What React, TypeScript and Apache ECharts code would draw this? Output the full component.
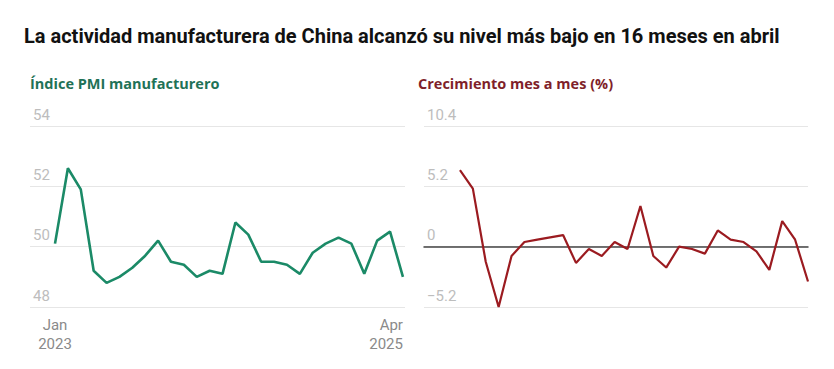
import React, { useEffect, useRef } from "react";
import * as echarts from "echarts";

const months = [
  "Jan 2023", "Feb 2023", "Mar 2023", "Apr 2023", "May 2023", "Jun 2023", "Jul 2023", "Aug 2023", "Sep 2023", "Oct 2023", "Nov 2023", "Dec 2023",
  "Jan 2024", "Feb 2024", "Mar 2024", "Apr 2024", "May 2024", "Jun 2024", "Jul 2024", "Aug 2024", "Sep 2024", "Oct 2024", "Nov 2024", "Dec 2024",
  "Jan 2025", "Feb 2025", "Mar 2025", "Apr 2025",
];

const pmi = [
  50.1, 52.6, 51.9, 49.2, 48.8, 49.0, 49.3, 49.7, 50.2, 49.5, 49.4, 49.0,
  49.2, 49.1, 50.8, 50.4, 49.5, 49.5, 49.4, 49.1, 49.8, 50.1, 50.3, 50.1,
  49.1, 50.2, 50.5, 49.0,
];

const momGrowth = [
  6.6, 5.0, -1.3, -5.2, -0.8, 0.4, 0.6, 0.8, 1.0, -1.4, -0.2, -0.8,
  0.4, -0.2, 3.5, -0.8, -1.8, 0.0, -0.2, -0.6, 1.4, 0.6, 0.4, -0.4,
  -2.0, 2.2, 0.6, -3.0,
];

const xTickLabels = ["Jan\n2023", "Apr\n2025"];
const leftTicks = [48, 50, 52, 54];
const rightTicks = [-5.2, 0, 5.2, 10.4];

const GREEN = "#1b8a67";
const RED = "#9b1b20";

export default function App() {
  const ref = useRef<HTMLDivElement>(null);
  useEffect(() => {
    if (!ref.current) return;
    const chart = echarts.init(ref.current, undefined, { renderer: "svg" });
    const last = months.length - 1;
    const yLabel = {
      inside: true,
      margin: 3,
      verticalAlign: "bottom" as const,
      padding: [0, 0, 4, 0],
      color: "#bdbdbd",
      fontSize: 15,
      fontFamily: "Roboto",
    };
    chart.setOption({
      animation: false,
      backgroundColor: "#ffffff",
      title: [
        {
          text: "La actividad manufacturera de China alcanzó su nivel más bajo en 16 meses en abril",
          left: 19,
          top: 21,
          textStyle: { fontFamily: "Roboto", fontWeight: "bold", fontSize: 20, color: "#111" },
        },
        {
          text: "Índice PMI manufacturero",
          left: 25,
          top: 71,
          textStyle: { fontFamily: "Open Sans", fontWeight: 700, fontSize: 14.5, color: "#1f7257" },
        },
        {
          text: "Crecimiento mes a mes (%)",
          left: 413,
          top: 71,
          textStyle: { fontFamily: "Open Sans", fontWeight: 700, fontSize: 14.5, color: "#7f1f2a" },
        },
      ],
      grid: [
        { left: 30, right: 429, top: 126, bottom: 62 },
        { left: 424, right: 26, top: 126, bottom: 62 },
      ],
      xAxis: [
        {
          type: "value",
          gridIndex: 0,
          min: -1.94,
          max: 27.16,
          splitLine: { show: false },
          axisLine: { show: false },
          axisTick: { show: false },
          axisLabel: {
            customValues: [0, last],
            formatter: (v: number) => (v === 0 ? xTickLabels[0] : v === last ? xTickLabels[1] : ""),
            alignMinLabel: "center",
            alignMaxLabel: "right",
            color: "#8a8a8a",
            fontSize: 15,
            lineHeight: 19,
            margin: 8,
            fontFamily: "Roboto",
          },
        },
        {
          type: "value",
          gridIndex: 1,
          min: -2.79,
          max: 27,
          splitLine: { show: false },
          axisLine: { show: true, onZero: true, lineStyle: { color: "#444", width: 1.5 } },
          axisTick: { show: false },
          axisLabel: { show: false },
        },
      ],
      yAxis: [
        {
          type: "value",
          gridIndex: 0,
          min: 48,
          max: 54,
          interval: 2,
          axisLine: { show: false },
          axisTick: { show: false },
          splitLine: { lineStyle: { color: "#e6e6e6", width: 1 } },
          axisLabel: { ...yLabel, formatter: (v: number) => (leftTicks.includes(v) ? String(v) : "") },
        },
        {
          type: "value",
          gridIndex: 1,
          min: -5.2,
          max: 10.4,
          interval: 5.2,
          axisLine: { show: false },
          axisTick: { show: false },
          splitLine: { lineStyle: { color: "#e6e6e6", width: 1 } },
          axisLabel: {
            ...yLabel,
            formatter: (v: number) => {
              const t = rightTicks.find((r) => Math.abs(r - v) < 1e-6);
              if (t === undefined) return "";
              return t < 0 ? "\u2212" + Math.abs(t).toFixed(1) : t === 0 ? "0" : t.toFixed(1);
            },
          },
        },
      ],
      series: [
        {
          type: "line",
          name: "PMI",
          xAxisIndex: 0,
          yAxisIndex: 0,
          data: pmi.map((v, i) => [i, v]),
          showSymbol: false,
          lineStyle: { color: GREEN, width: 2.6 },
          itemStyle: { color: GREEN },
        },
        {
          type: "line",
          name: "MoM",
          xAxisIndex: 1,
          yAxisIndex: 1,
          data: momGrowth.map((v, i) => [i, v]),
          showSymbol: false,
          lineStyle: { color: RED, width: 2.2 },
          itemStyle: { color: RED },
          z: 3,
        },
      ],
    });
    return () => chart.dispose();
  }, []);
  return (
    <div
      ref={ref}
      style={{ position: "absolute", left: 0, top: 0, width: 834, height: 369 }}
    />
  );
}
